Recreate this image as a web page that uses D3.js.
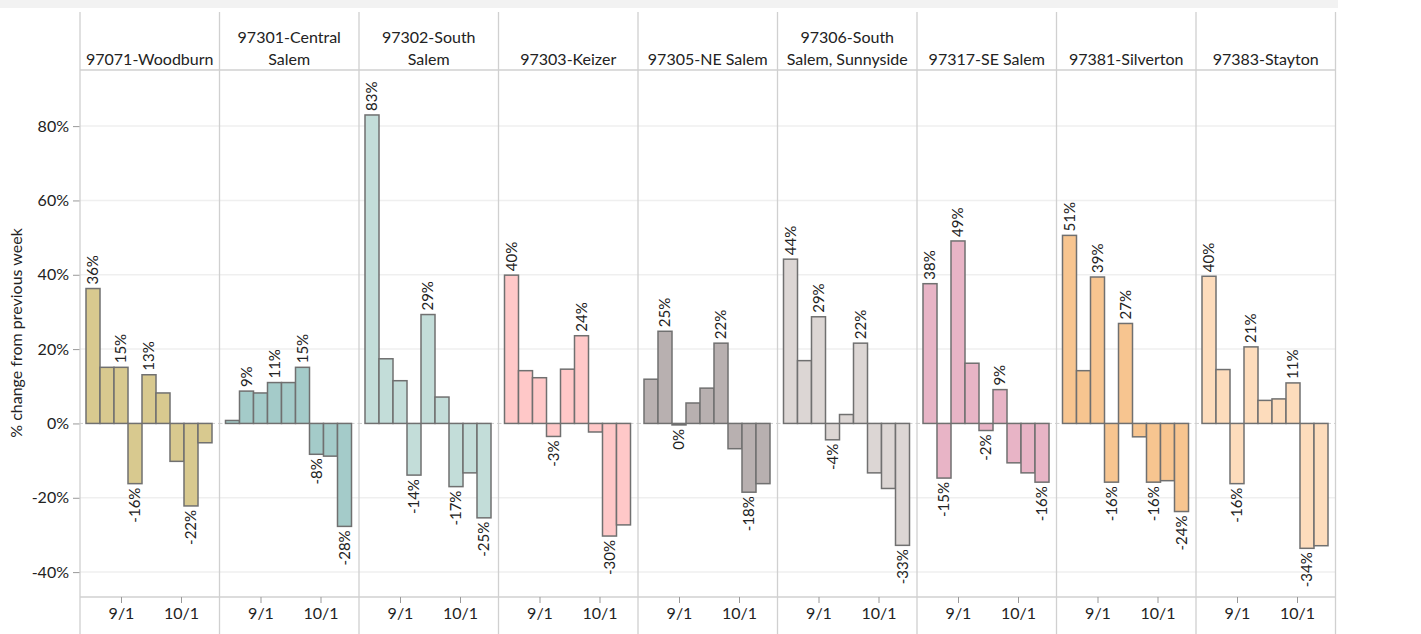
<!DOCTYPE html>
<html><head><meta charset="utf-8">
<script src="https://cdn.jsdelivr.net/npm/d3@7"></script>
<style>
html,body{margin:0;padding:0;background:#fff;}
text{font-family:Lato,"Open Sans",sans-serif;fill:#222;}
</style></head>
<body>
<svg id="chart" width="1421" height="634"></svg>
<script>
// ---- data ----
const regions = [
  ["97071-Woodburn"],
  ["97301-Central", "Salem"],
  ["97302-South", "Salem"],
  ["97303-Keizer"],
  ["97305-NE Salem"],
  ["97306-South", "Salem, Sunnyside"],
  ["97317-SE Salem"],
  ["97381-Silverton"],
  ["97383-Stayton"]
];
const regionColors = ["#d8c98f", "#a4cbc9", "#c3ddd9", "#ffc8c8", "#b8b0b0", "#dcd6d4", "#e8b4c6", "#f7c590", "#fddcbc"];
const weeks = ["2020-08-18","2020-08-25","2020-09-01","2020-09-08","2020-09-15","2020-09-22","2020-09-29","2020-10-06","2020-10-13"];

const woodburn     = [36.3, 15.1, 15.1, -16.2, 13.1, 8.2, -10.2, -22.2, -5.2];
const centralSalem = [0.8, 8.7, 8.2, 11.0, 11.0, 15.1, -8.3, -8.8, -27.7];
const southSalem   = [83.0, 17.4, 11.5, -13.9, 29.3, 7.1, -17.0, -13.3, -25.4];
const keizer       = [39.9, 14.2, 12.3, -3.5, 14.6, 23.6, -2.3, -30.3, -27.3];
const neSalem      = [11.9, 24.8, -0.4, 5.5, 9.5, 21.6, -6.8, -18.5, -16.2];
const sunnyside    = [44.2, 16.9, 28.7, -4.4, 2.4, 21.6, -13.3, -17.5, -32.8];
const seSalem      = [37.6, -14.7, 49.1, 16.2, -1.9, 9.1, -10.6, -13.3, -15.8];
const silverton    = [50.6, 14.2, 39.4, -15.8, 26.9, -3.6, -15.8, -15.4, -23.7];
const stayton      = [39.6, 14.5, -16.2, 20.6, 6.2, 6.6, 10.9, -33.6, -32.9];
const seriesValues = [woodburn, centralSalem, southSalem, keizer, neSalem, sunnyside, seSalem, silverton, stayton];

// indices of bars that carry a value label
const labeledBars = [
  [0, 2, 3, 4, 7],
  [1, 3, 5, 6, 8],
  [0, 3, 4, 6, 8],
  [0, 3, 5, 7],
  [1, 2, 5, 7],
  [0, 2, 3, 5, 8],
  [0, 1, 2, 4, 5, 8],
  [0, 2, 3, 4, 6, 8],
  [0, 2, 3, 6, 7]
];

const yTicks = [-40, -20, 0, 20, 40, 60, 80];
const xTickDates = ["2020-09-01", "2020-10-01"];
const xTickLabels = ["9/1", "10/1"];
const yTitle = "% change from previous week";

// ---- layout ----
const svg = d3.select("#chart");
const left = 80, panelW = 139.5, headerTop = 12, headerBottom = 70, plotBottom = 597, frameBottom = 634;
const right = left + panelW * regions.length;
const parse = d3.utcParse("%Y-%m-%d");

svg.append("rect").attr("x", 0).attr("y", 0).attr("width", 1338).attr("height", 8).attr("fill", "#f2f2f2");

const y = d3.scaleLinear().domain([-46.7, 95.1]).range([plotBottom, headerBottom]);
const x = d3.scaleUtc()
  .domain([new Date(Date.UTC(2020, 7, 11, 12)), new Date(Date.UTC(2020, 9, 20, 6))])
  .range([0, panelW]);

// gridlines
svg.append("g").selectAll("line").data(yTicks.filter(d => d !== 0)).join("line")
  .attr("x1", left).attr("x2", right)
  .attr("y1", d => y(d)).attr("y2", d => y(d))
  .attr("stroke", "#efefef").attr("stroke-width", 1.5);

// y axis
const yAxis = svg.append("g").attr("transform", `translate(${left},0)`)
  .call(d3.axisLeft(y).tickValues(yTicks).tickFormat(d => d + "%").tickSize(7).tickPadding(4));
yAxis.select(".domain").remove();
yAxis.selectAll(".tick line").attr("stroke", "#999");
yAxis.selectAll(".tick text").attr("font-size", 16).attr("fill", "#222").style("font-family", "Lato");

svg.append("text").attr("transform", `translate(16,333) rotate(-90)`)
  .attr("text-anchor", "middle").attr("dy", "0.35em").attr("font-size", 16).text(yTitle);

// frame lines
svg.append("line").attr("x1", left).attr("x2", right).attr("y1", headerBottom).attr("y2", headerBottom)
  .attr("stroke", "#d0d0d0").attr("stroke-width", 1.3);
svg.append("line").attr("x1", left).attr("x2", right).attr("y1", plotBottom).attr("y2", plotBottom)
  .attr("stroke", "#d0d0d0").attr("stroke-width", 1.3);
svg.append("g").selectAll("line").data(d3.range(regions.length + 1)).join("line")
  .attr("x1", i => left + i * panelW).attr("x2", i => left + i * panelW)
  .attr("y1", headerTop).attr("y2", frameBottom)
  .attr("stroke", "#d0d0d0").attr("stroke-width", 1.3);

const fmt = v => { const r = Math.round(v); return (r === 0 ? 0 : r) + "%"; };

regions.forEach((name, p) => {
  const g = svg.append("g").attr("transform", `translate(${left + p * panelW},0)`);
  const cx = panelW / 2;
  // header
  const lines = name;
  const lineYs = lines.length === 1 ? [59] : [37, 59];
  lines.forEach((ln, i) => {
    g.append("text").attr("x", cx).attr("y", lineYs[i]).attr("dy", "0.35em")
      .attr("text-anchor", "middle").attr("font-size", 16).text(ln);
  });
  // zero line
  g.append("line").attr("x1", 0).attr("x2", panelW).attr("y1", y(0)).attr("y2", y(0))
    .attr("stroke", "#cfcfcf").attr("stroke-dasharray", "3,3");
  const data = seriesValues[p].map((v, i) => ({ date: parse(weeks[i]), v, i }));
  const half = 3.5 * 24; // hours
  g.selectAll("rect.bar").data(data).join("rect").attr("class", "bar")
    .attr("x", d => x(d3.utcHour.offset(d.date, -half)))
    .attr("width", d => x(d3.utcHour.offset(d.date, half)) - x(d3.utcHour.offset(d.date, -half)))
    .attr("y", d => y(Math.max(0, d.v)))
    .attr("height", d => Math.abs(y(d.v) - y(0)))
    .attr("fill", regionColors[p]).attr("stroke", "#707070").attr("stroke-width", 1.5);
  // labels
  g.selectAll("text.lbl").data(data.filter(d => labeledBars[p].includes(d.i))).join("text").attr("class", "lbl")
    .attr("transform", d => `translate(${x(d.date)},${d.v >= 0 ? y(d.v) - 4 : y(d.v) + 4}) rotate(-90)`)
    .attr("dy", "0.35em")
    .attr("text-anchor", d => d.v >= 0 ? "start" : "end")
    .attr("font-size", 15).text(d => fmt(d.v));
  // x axis
  const xa = g.append("g").attr("transform", `translate(0,${plotBottom})`)
    .call(d3.axisBottom(x).tickValues(xTickDates.map(parse)).tickFormat((d, i) => xTickLabels[i]).tickSize(6).tickPadding(5));
  xa.select(".domain").remove();
  xa.selectAll(".tick line").attr("stroke", "#999");
  xa.selectAll(".tick text").attr("font-size", 16).attr("fill", "#222").style("font-family", "Lato");
});
</script>
</body></html>
